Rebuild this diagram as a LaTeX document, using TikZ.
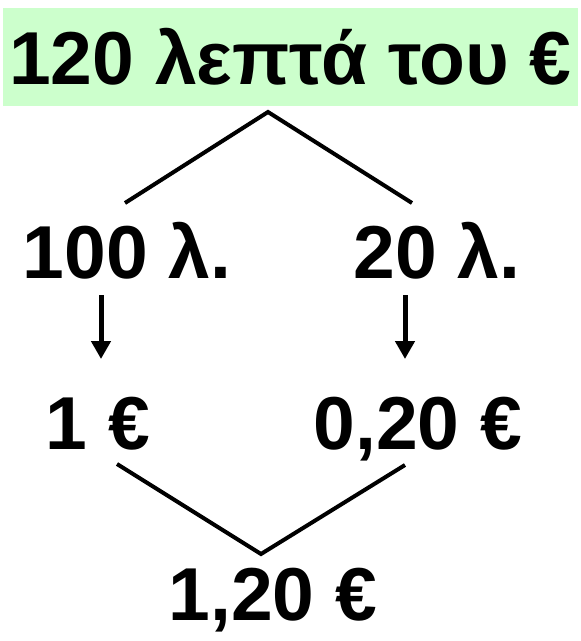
\documentclass[tikz,border=0pt]{standalone}
\usepackage{fontspec}
\setmainfont{Liberation Sans}
\usetikzlibrary{arrows.meta,positioning}
\definecolor{boxgreen}{HTML}{CCFFCC}
\tikzset{
  amount/.style={font=\fontsize{75}{90}\selectfont\bfseries, inner sep=0pt, anchor=base},
  branch/.style={line width=4pt},
  convert/.style={line width=5pt, -{Triangle[length=18pt,width=19pt]}}
}

\begin{document}
\begin{tikzpicture}[x=1pt,y=-1pt]
  \useasboundingbox (0,0) rectangle (581,641);

  \node[amount, fill=boxgreen, minimum width=575pt, text height=76pt, text depth=22pt] (title) at (290.5,84) {120 λεπτά του €};

  \node[amount] (cents100) at (127,278) {100 λ.};
  \node[amount] (cents20) at (437,278) {20 λ.};

  \node[amount] (euro1) at (98,449) {1 €};
  \node[amount] (euro020) at (418,449) {0,20 €};

  \node[amount] (total) at (273,620) {1,20 €};

  % split
  \coordinate (topapex) at (268,112);
  \coordinate (splitL) at (125,203);
  \coordinate (splitR) at (412,203);
  \draw[branch] (splitL) -- (topapex) -- (splitR);

  % conversion
  \coordinate (fromL) at (101,295);
  \coordinate (toL) at (101,359);
  \coordinate (fromR) at (405,295);
  \coordinate (toR) at (405,359);
  \draw[convert] (fromL) -- (toL);
  \draw[convert] (fromR) -- (toR);

  % join
  \coordinate (joinL) at (117,464);
  \coordinate (joinR) at (405,465);
  \coordinate (bottomapex) at (261,554);
  \draw[branch] (joinL) -- (bottomapex) -- (joinR);
\end{tikzpicture}
\end{document}
